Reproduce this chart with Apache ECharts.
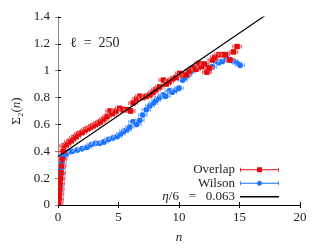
<!DOCTYPE html>
<html>
<head>
<meta charset="utf-8">
<script src="https://cdn.jsdelivr.net/npm/echarts@6/dist/echarts.min.js"></script>
<style>html,body{margin:0;padding:0;background:#fff}#c{width:332px;height:249px}</style>
</head>
<body>
<div id="c"></div>
<script>
// ---- data ----
const overlapN = [0.05,0.08,0.12,0.15,0.18,0.22,0.26,0.3,0.35,0.42,0.5,0.7,0.9,1.1,1.3,1.5,1.73,2.0,2.28,2.5,2.7,2.9,3.1,3.3,3.52,3.8,4.06,4.3,4.5,4.8,5.1,5.4,5.8,6.0,6.2,6.5,6.76,7.0,7.3,7.6,7.85,8.1,8.4,8.7,8.95,9.2,9.5,9.75,10.05,10.3,10.6,10.85,11.15,11.4,11.65,11.85,12.1,12.3,12.5,12.75,12.95,13.3,13.6,13.85,14.2,14.5,14.8];
const overlapS = [0.01,0.04,0.08,0.12,0.16,0.2,0.24,0.29,0.34,0.4,0.44,0.45,0.47,0.48,0.5,0.51,0.53,0.54,0.56,0.57,0.58,0.59,0.6,0.61,0.62,0.64,0.66,0.7,0.68,0.7,0.72,0.71,0.71,0.7,0.76,0.79,0.81,0.8,0.81,0.82,0.84,0.86,0.88,0.93,0.9,0.92,0.94,0.95,0.98,0.97,0.97,1.0,1.02,1.01,1.055,1.03,1.05,0.99,1.02,1.08,1.10,1.12,1.12,1.12,1.08,1.14,1.18];
const wilsonN = [0.03,0.06,0.1,0.13,0.17,0.2,0.25,0.3,0.4,0.5,0.7,0.9,1.2,1.6,2.0,2.4,2.75,3.1,3.46,3.8,4.2,4.56,4.9,5.2,5.45,5.7,5.93,6.2,6.5,6.76,7.0,7.3,7.6,7.9,8.1,8.4,8.7,8.9,9.2,9.45,9.75,10.0,10.3,10.5,10.7,10.95,11.2,11.45,11.65,11.9,12.2,12.3,12.55,12.75,13.0,13.3,13.6,13.95,14.25,14.5,14.8,15.05];
const wilsonS = [0.01,0.05,0.1,0.14,0.19,0.23,0.27,0.31,0.35,0.37,0.385,0.40,0.40,0.41,0.42,0.43,0.45,0.46,0.46,0.47,0.49,0.50,0.51,0.53,0.55,0.56,0.58,0.62,0.60,0.63,0.67,0.71,0.74,0.76,0.78,0.80,0.82,0.81,0.85,0.84,0.86,0.87,0.93,0.95,0.97,0.99,1.02,1.02,1.04,1.04,1.04,0.99,1.02,1.03,1.07,1.06,1.07,1.09,1.08,1.07,1.055,1.04];
const overlapErrN = 0.35, overlapErrS = 0.014;
const wilsonErrN = 0.35, wilsonErrS = 0.014;
const fitN = [0, 20];
const fitS = [0.36, 1.588];
const xTicks = [0, 5, 10, 15, 20];
const yTicks = [0, 0.2, 0.4, 0.6, 0.8, 1, 1.2, 1.4];
const names = ['Overlap', 'Wilson', 'η/6 = 0.063'];

const FONT = 'Liberation Serif';
const RED = '#e60a0a', RED_BAR = '#f06a6a';
const BLUE = '#1a74ff', BLUE_BAR = '#86b4ff';

function zip(a, b) { return a.map((v, i) => [v, b[i]]); }

function errRender(color, barColor, shape, ex, ey) {
  return function (params, api) {
    const x = api.value(0), y = api.value(1);
    const c = api.coord([x, y]);
    const l = api.coord([x - ex, y]);
    const r = api.coord([x + ex, y]);
    const t = api.coord([x, y + ey]);
    const b = api.coord([x, y - ey]);
    const ls = { stroke: barColor, lineWidth: 1.2 };
    const cap = 2;
    const children = [
      { type: 'line', shape: { x1: l[0], y1: l[1], x2: r[0], y2: r[1] }, style: ls },
      { type: 'line', shape: { x1: l[0], y1: l[1] - cap, x2: l[0], y2: l[1] + cap }, style: ls },
      { type: 'line', shape: { x1: r[0], y1: r[1] - cap, x2: r[0], y2: r[1] + cap }, style: ls },
      { type: 'line', shape: { x1: t[0], y1: t[1], x2: b[0], y2: b[1] }, style: ls },
      { type: 'line', shape: { x1: t[0] - cap, y1: t[1], x2: t[0] + cap, y2: t[1] }, style: ls },
      { type: 'line', shape: { x1: b[0] - cap, y1: b[1], x2: b[0] + cap, y2: b[1] }, style: ls }
    ];
    if (shape === 'rect') {
      children.push({ type: 'rect', shape: { x: c[0] - 2.7, y: c[1] - 2.7, width: 5.4, height: 5.4 }, style: { fill: color } });
    } else {
      children.push({ type: 'circle', shape: { cx: c[0], cy: c[1], r: 2.8 }, style: { fill: color } });
    }
    return { type: 'group', children: children };
  };
}

const iconOverlap = 'path://M0,3.6H39V4.4H0Z M0,2H0.8V6H0Z M38.2,2H39V6H38.2Z M17,1.6H22V6.4H17Z';
const iconWilson = 'path://M0,3.6H39V4.4H0Z M0,2H0.8V6H0Z M38.2,2H39V6H38.2Z M19.5,1.5A2.5,2.5 0 1 1 19.49,1.5Z';
const iconFit = 'path://M0,3.3H39V4.7H0Z M0,0H0.01V8H0Z';

const chart = echarts.init(document.getElementById('c'), null, { renderer: 'canvas' });
const axisLine = { lineStyle: { color: '#000', width: 1 } };
const labelStyle = { fontFamily: FONT, fontSize: 13, color: '#222' };
chart.setOption({
  animation: false,
  backgroundColor: '#fff',
  textStyle: { fontFamily: FONT },
  grid: { left: 58, right: 32, top: 17, bottom: 44, containLabel: false },
  xAxis: [
    { type: 'value', min: 0, max: 20, interval: 5, position: 'bottom',
      axisLine: axisLine, axisTick: { inside: true, length: 3, lineStyle: { color: '#000' } },
      axisLabel: Object.assign({ margin: 6, formatter: v => xTicks.includes(v) ? String(v) : '' }, labelStyle),
      splitLine: { show: false },
      name: 'n', nameLocation: 'middle', nameGap: 26,
      nameTextStyle: { fontFamily: FONT, fontSize: 13, fontStyle: 'italic', color: '#222' } },
    { type: 'value', min: 0, max: 20, interval: 5, position: 'top',
      axisLine: axisLine, axisTick: { inside: true, length: 3, lineStyle: { color: '#000' } },
      axisLabel: { show: false }, splitLine: { show: false } }
  ],
  yAxis: [
    { type: 'value', min: 0, max: 1.4, interval: 0.2, position: 'left',
      axisLine: Object.assign({ show: true }, axisLine), axisTick: { show: true, inside: true, length: 3, lineStyle: { color: '#000' } },
      axisLabel: Object.assign({ margin: 8, formatter: v => String(Math.round(v * 10) / 10) }, labelStyle),
      splitLine: { show: false },
      name: '{a|Σ₂(}{i|n}{a|)}', nameLocation: 'middle', nameGap: 33, nameRotate: 90,
      nameTextStyle: { rich: { a: { fontFamily: FONT, fontSize: 13, color: '#222' }, i: { fontFamily: FONT, fontSize: 13, fontStyle: 'italic', color: '#222' } } } },
    { type: 'value', min: 0, max: 1.4, interval: 0.2, position: 'right',
      axisLine: { show: true, lineStyle: { color: '#888', width: 1 } }, axisTick: { show: true, inside: true, length: 3, lineStyle: { color: '#888' } },
      axisLabel: { show: false }, splitLine: { show: false } }
  ],
  legend: {
    orient: 'vertical', right: 48, top: 158, align: 'right',
    itemWidth: 39, itemHeight: 8, itemGap: 0,
    textStyle: { fontFamily: FONT, fontSize: 13, color: '#222', lineHeight: 13.5,
      rich: { i: { fontFamily: FONT, fontSize: 13, fontStyle: 'italic', color: '#222' }, t: { fontFamily: FONT, fontSize: 13, color: '#222' } } },
    formatter: function (name) { return name === names[2] ? '{i|η}{t|/6 \u2002=\u2002 0.063}' : name; },
    data: [
      { name: names[0], icon: iconOverlap },
      { name: names[1], icon: iconWilson },
      { name: names[2], icon: iconFit }
    ]
  },
  graphic: [
    { type: 'text', left: 70, top: 36, style: { text: 'ℓ\u2002=\u2002250', font: '14px "Liberation Serif"', fill: '#222' } }
  ],
  series: [
    { name: names[2], type: 'line', data: zip(fitN, fitS), showSymbol: false, symbol: 'none',
      lineStyle: { color: '#000', width: 1.2 }, itemStyle: { color: '#000' }, clip: true, z: 3 },
    { name: names[1], type: 'custom', data: zip(wilsonN, wilsonS), clip: true, z: 2,
      itemStyle: { color: BLUE }, renderItem: errRender(BLUE, BLUE_BAR, 'circle', wilsonErrN, wilsonErrS) },
    { name: names[0], type: 'custom', data: zip(overlapN, overlapS), clip: true, z: 2,
      itemStyle: { color: RED }, renderItem: errRender(RED, RED_BAR, 'rect', overlapErrN, overlapErrS) }
  ]
});
</script>
</body>
</html>
